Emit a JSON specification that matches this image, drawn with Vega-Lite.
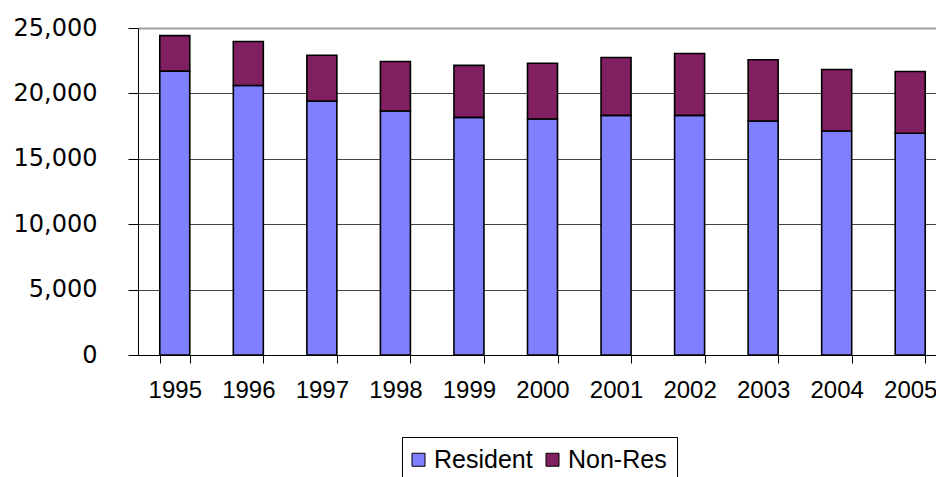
{
  "$schema": "https://vega.github.io/schema/vega-lite/v6.json",
  "width": 798,
  "height": 327,
  "autosize": {"type": "none"},
  "padding": {"left": 138, "top": 28, "right": 0, "bottom": 122},
  "background": "white",
  "config": {"view": {"stroke": null}},
  "data": {
    "values": [
      {"year": "1995", "type": "Resident", "value": 21700, "ord": 0},
      {"year": "1995", "type": "Non-Res", "value": 2720, "ord": 1},
      {"year": "1996", "type": "Resident", "value": 20600, "ord": 0},
      {"year": "1996", "type": "Non-Res", "value": 3370, "ord": 1},
      {"year": "1997", "type": "Resident", "value": 19410, "ord": 0},
      {"year": "1997", "type": "Non-Res", "value": 3510, "ord": 1},
      {"year": "1998", "type": "Resident", "value": 18650, "ord": 0},
      {"year": "1998", "type": "Non-Res", "value": 3790, "ord": 1},
      {"year": "1999", "type": "Resident", "value": 18170, "ord": 0},
      {"year": "1999", "type": "Non-Res", "value": 3970, "ord": 1},
      {"year": "2000", "type": "Resident", "value": 18040, "ord": 0},
      {"year": "2000", "type": "Non-Res", "value": 4270, "ord": 1},
      {"year": "2001", "type": "Resident", "value": 18320, "ord": 0},
      {"year": "2001", "type": "Non-Res", "value": 4430, "ord": 1},
      {"year": "2002", "type": "Resident", "value": 18320, "ord": 0},
      {"year": "2002", "type": "Non-Res", "value": 4730, "ord": 1},
      {"year": "2003", "type": "Resident", "value": 17890, "ord": 0},
      {"year": "2003", "type": "Non-Res", "value": 4680, "ord": 1},
      {"year": "2004", "type": "Resident", "value": 17120, "ord": 0},
      {"year": "2004", "type": "Non-Res", "value": 4710, "ord": 1},
      {"year": "2005", "type": "Resident", "value": 16950, "ord": 0},
      {"year": "2005", "type": "Non-Res", "value": 4730, "ord": 1}
    ]
  },
  "mark": {"type": "bar", "stroke": "black", "strokeWidth": 1.6},
  "encoding": {
    "x": {
      "field": "year",
      "type": "ordinal",
      "scale": {"range": [0, 809], "paddingInner": 0.592, "paddingOuter": 0.296},
      "axis": {
        "title": null,
        "labelAngle": 0,
        "labelFont": "Liberation Sans",
        "labelFontSize": 24,
        "labelColor": "black",
        "labelPadding": 15,
        "tickBand": "extent",
        "tickSize": 8,
        "tickColor": "black",
        "domainColor": "black",
        "domainWidth": 1,
        "labelOverlap": false,
        "labelBound": false
      }
    },
    "y": {
      "field": "value",
      "type": "quantitative",
      "aggregate": "sum",
      "stack": "zero",
      "scale": {"domain": [0, 25000], "nice": false},
      "axis": {
        "title": null,
        "values": [0, 5000, 10000, 15000, 20000, 25000],
        "format": ",d",
        "labelFont": "DejaVu Sans",
        "labelFontSize": 24,
        "labelColor": "black",
        "labelPadding": 31,
        "tickSize": 10,
        "tickColor": "black",
        "domainColor": "black",
        "grid": true,
        "gridColor": {"condition": {"test": "datum.value === 25000", "value": "#a0a0a0"}, "value": "#444444"},
        "gridWidth": {"condition": {"test": "datum.value === 25000", "value": 2}, "value": 1},
        "gridOpacity": 1
      }
    },
    "color": {
      "field": "type",
      "type": "nominal",
      "scale": {"domain": ["Resident", "Non-Res"], "range": ["#8080FF", "#802060"]},
      "legend": {
        "title": null,
        "orient": "none",
        "direction": "horizontal",
        "legendX": 264,
        "legendY": 409,
        "symbolType": "square",
        "symbolSize": 169,
        "symbolStrokeColor": "black",
        "symbolStrokeWidth": 1,
        "symbolOpacity": 1,
        "symbolOffset": -6,
        "labelFont": "Liberation Sans",
        "labelFontSize": 25,
        "labelColor": "black",
        "labelOffset": 3,
        "columnPadding": 11,
        "padding": 10,
        "strokeColor": "black",
        "fillColor": "white"
      }
    },
    "order": {"field": "ord", "type": "quantitative"}
  }
}
